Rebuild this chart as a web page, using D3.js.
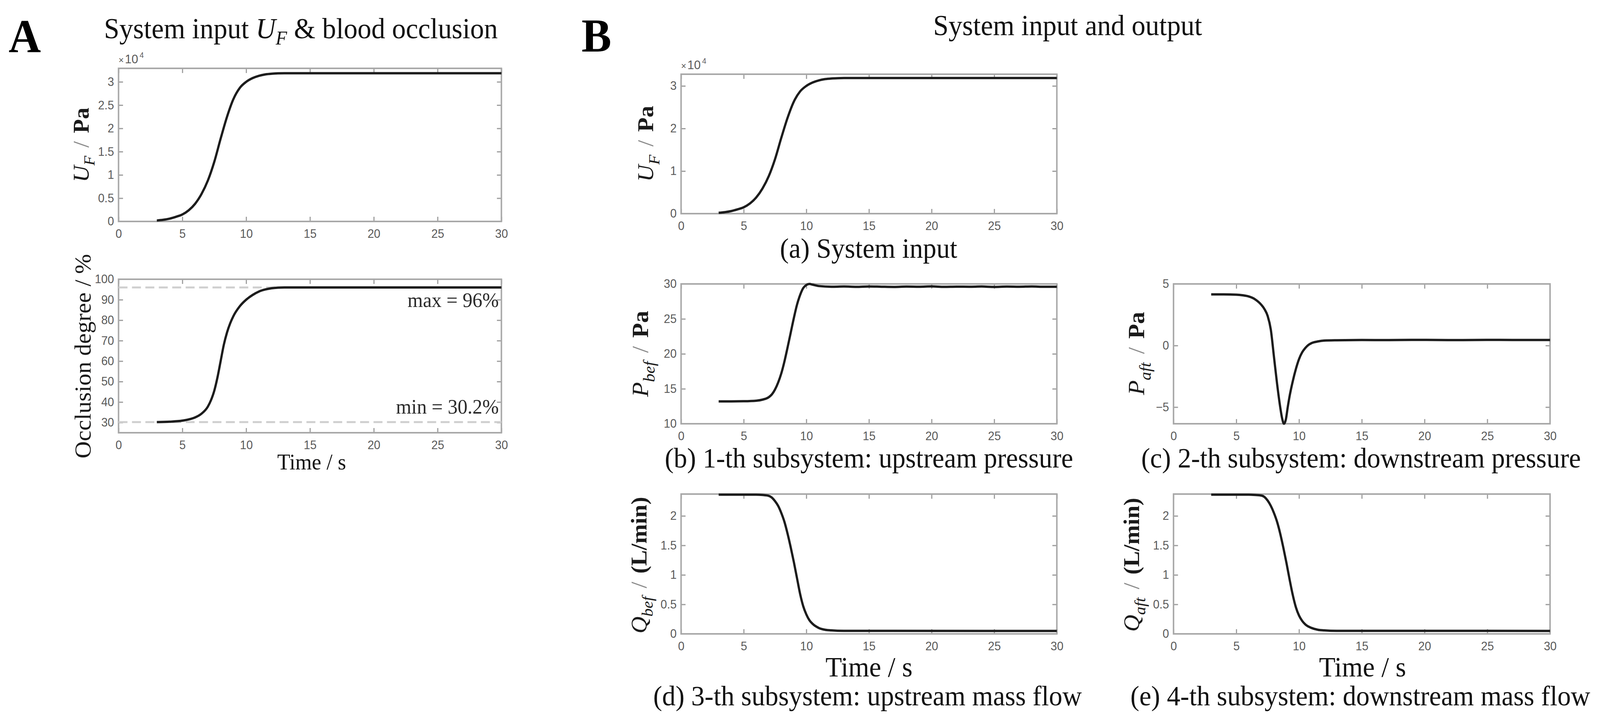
<!DOCTYPE html>
<html>
<head>
<meta charset="utf-8">
<script src="https://cdn.jsdelivr.net/npm/d3@7"></script>
<style>
  html, body { margin: 0; padding: 0; background: #fff; overflow: hidden; width: 100%; height: 100%; }
  #fig { display: block; width: 100vw; height: 100vh; }
</style>
</head>
<body>
<svg id="fig"></svg>
<script>
// ---- data (time in s) ----
const timeTicks = [0, 5, 10, 15, 20, 25, 30];

// system input U_F in Pa
const inputUF = [[3,200],[3.5,350],[4,600],[4.5,1000],[5,1500],[5.5,2400],[6,3800],[6.5,5900],
  [7,8800],[7.5,12800],[8,17800],[8.5,22500],[9,26300],[9.5,28700],[10,30000],[10.5,30800],
  [11,31300],[11.5,31600],[12,31750],[12.5,31820],[13,31850],[15,31850],[30,31850]];

// blood occlusion degree in %
const occlusion = [[3,30.2],[4,30.4],[5,30.9],[5.5,31.5],[6,32.5],[6.5,34.3],[7,37.8],[7.25,41],
  [7.5,45.5],[7.75,52],[8,60],[8.25,68],[8.5,74],[8.75,78.5],[9,82],[9.5,86.8],[10,90],[10.5,92.3],
  [11,94],[11.5,95],[12,95.6],[12.5,95.9],[13,96],[30,96]];
const occlusionMax = 96;
const occlusionMin = 30.2;

// upstream pressure P_bef in Pa
const pressureBef = [[3,13.2],[4,13.2],[5,13.22],[6,13.3],[6.5,13.45],[7,13.8],[7.25,14.2],[7.5,14.9],
  [7.75,15.9],[8,17.2],[8.25,18.9],[8.5,20.9],[8.75,23],[9,25.1],[9.25,27],[9.5,28.4],[9.75,29.4],
  [10,29.85],[10.25,30],[10.5,29.9],[11,29.7],[12,29.6],[13,29.63],[14,29.58],[15,29.64],[16,29.6],
  [17,29.57],[18,29.62],[19,29.6],[20,29.65],[21,29.58],[22,29.61],[23,29.6],[24,29.63],[25,29.57],
  [26,29.62],[27,29.6],[28,29.64],[29,29.59],[30,29.6]];

// downstream pressure P_aft in Pa
const pressureAft = [[3,4.15],[4,4.15],[5,4.13],[5.5,4.08],[6,3.98],[6.5,3.75],[7,3.3],[7.25,2.95],
  [7.5,2.4],[7.75,1.3],[8,-0.9],[8.25,-3.1],[8.5,-5],[8.65,-5.9],[8.8,-6.35],[8.95,-6],[9.1,-5],
  [9.25,-4.1],[9.5,-2.9],[9.75,-1.9],[10,-1.1],[10.25,-0.55],[10.5,-0.2],[10.75,0.05],[11,0.2],
  [11.5,0.33],[12,0.4],[13,0.43],[15,0.45],[17,0.44],[19,0.46],[21,0.45],[23,0.44],[25,0.46],
  [27,0.45],[30,0.45]];

// upstream mass flow Q_bef in L/min
const flowBef = [[3,2.36],[6,2.36],[6.5,2.355],[7,2.34],[7.25,2.31],[7.5,2.25],[7.75,2.17],[8,2.05],
  [8.25,1.9],[8.5,1.7],[8.75,1.47],[9,1.22],[9.25,0.95],[9.5,0.68],[9.75,0.47],[10,0.33],[10.25,0.23],
  [10.5,0.17],[11,0.1],[11.5,0.07],[12,0.06],[13,0.052],[30,0.05]];

// downstream mass flow Q_aft in L/min
const flowAft = [[3,2.36],[6,2.36],[6.5,2.355],[7,2.345],[7.25,2.32],[7.5,2.26],[7.75,2.17],[8,2.05],
  [8.25,1.9],[8.5,1.7],[8.75,1.46],[9,1.2],[9.25,0.92],[9.5,0.66],[9.75,0.45],[10,0.31],[10.25,0.22],
  [10.5,0.16],[11,0.1],[11.5,0.07],[12,0.06],[13,0.052],[30,0.05]];

const ufTicks = [0, 5000, 10000, 15000, 20000, 25000, 30000];
const ufTicksB = [0, 10000, 20000, 30000];
const occTicks = [30, 40, 50, 60, 70, 80, 90, 100];
const pBefTicks = [10, 15, 20, 25, 30];
const pAftTicks = [-5, 0, 5];
const flowTicks = [0, 0.5, 1, 1.5, 2];

// ---- drawing ----
const W = 4292, H = 1864;
const SERIF = '"Liberation Serif", "Times New Roman", serif';
const SANS = '"Liberation Sans", Arial, sans-serif';
const TICK = 12;

// fill the whole window whatever its css size turns out to be
const svg = d3.select('#fig')
    .attr('viewBox', `0 0 ${W} ${H}`)
    .attr('preserveAspectRatio', 'none');

function drawPanel(p) {
    const w = p.right - p.left, h = p.bottom - p.top;
    const g = svg.append('g').attr('transform', `translate(${p.left},${p.top})`);
    const x = d3.scaleLinear().domain([0, 30]).range([0, w]);
    const y = d3.scaleLinear().domain(p.yDomain).range([h, 0]);

    const axes = [
        g.append('g').attr('transform', `translate(0,${h})`)
            .call(d3.axisBottom(x).tickValues(timeTicks).tickSize(-TICK).tickPadding(20)),
        g.append('g')
            .call(d3.axisTop(x).tickValues(timeTicks).tickSize(-TICK).tickFormat('')),
        g.append('g')
            .call(d3.axisLeft(y).tickValues(p.yTicks).tickSize(-TICK).tickPadding(12).tickFormat(p.fmt)),
        g.append('g').attr('transform', `translate(${w},0)`)
            .call(d3.axisRight(y).tickValues(p.yTicks).tickSize(-TICK).tickFormat(''))
    ];
    axes.forEach(a => {
        a.select('.domain').remove();
        a.selectAll('.tick line').attr('stroke', '#9c9c9c').attr('stroke-width', 3);
        a.selectAll('.tick text').attr('fill', '#5a5a5a')
            .style('font-family', SANS).style('font-size', '31px');
    });

    g.append('rect')
        .attr('width', w).attr('height', h)
        .attr('fill', 'none').attr('stroke', '#a8a8a8').attr('stroke-width', 4);

    (p.refLines || []).forEach(v => {
        g.append('line')
            .attr('x1', 0).attr('x2', w).attr('y1', y(v)).attr('y2', y(v))
            .attr('stroke', '#cfcfcf').attr('stroke-width', 5).attr('stroke-dasharray', '24 12');
    });

    const line = d3.line()
        .x(d => x(d[0]))
        .y(d => y(d[1]))
        .curve(d3.curveMonotoneX);

    g.append('path')
        .attr('d', line(p.data))
        .attr('fill', 'none')
        .attr('stroke', '#1c1c1c')
        .attr('stroke-width', 6)
        .attr('stroke-linejoin', 'round');

    if (p.exponent) {
        const t = g.append('text').attr('x', 0).attr('y', -13)
            .attr('fill', '#5a5a5a').style('font-family', SANS);
        t.append('tspan').style('font-size', '24px').text('\u00d7');
        t.append('tspan').style('font-size', '32px').attr('dx', 3).text('10');
        t.append('tspan').style('font-size', '20px').attr('dx', 4).attr('dy', -14).text('4');
    }
    return { g, x, y, w, h };
}

// rotated y label built from parts; kinds: it, sub, slash, bold, plain
function yLabel(cx, cy, fs, parts) {
    const g = svg.append('g').attr('transform', `translate(${cx},${cy}) rotate(-90)`);
    const t = g.append('text').attr('x', 0).attr('y', fs * 0.33)
        .attr('text-anchor', 'middle').attr('fill', '#1a1a1a')
        .style('font-family', SERIF).style('font-size', fs + 'px');
    let shifted = 0;
    parts.forEach(pt => {
        const s = t.append('tspan').text(pt.t);
        let dy = 0;
        if (pt.k === 'sub') {
            dy = fs * 0.28 - shifted; shifted = fs * 0.28;
            s.style('font-size', (fs * 0.7) + 'px').style('font-style', 'italic');
        } else { dy = -shifted; shifted = 0; }
        if (dy) s.attr('dy', dy);
        if (pt.k === 'it') s.style('font-style', 'italic');
        if (pt.k === 'bold') s.style('font-weight', 'bold').attr('dx', fs * 0.35);
        if (pt.k === 'slash') s.attr('fill', '#8a8a8a').attr('dx', fs * 0.35);
    });
}

function label(x, y, fs, str, anchor, opts = {}) {
    return svg.append('text')
        .attr('x', x).attr('y', y)
        .attr('text-anchor', anchor || 'middle')
        .attr('fill', opts.fill || '#111')
        .style('font-family', SERIF).style('font-size', fs + 'px')
        .style('font-weight', opts.weight || 'normal')
        .text(str);
}

const fmtE4 = d => d3.format('~g')(d / 1e4);
const fmtPlain = d => d3.format('~g')(d);

// ---- panel A ----
label(23, 133, 120, 'A', 'start', { weight: 'bold', fill: '#000' });
{
    const t = svg.append('text').attr('x', 279).attr('y', 98).attr('fill', '#111')
        .style('font-family', SERIF).style('font-size', '74px');
    t.append('tspan').text('System input ');
    t.append('tspan').style('font-style', 'italic').text('U');
    t.append('tspan').style('font-style', 'italic').style('font-size', '50px').attr('dy', 16).text('F');
    t.append('tspan').attr('dy', -16).text(' & blood occlusion');
}

drawPanel({ left: 318, right: 1345, top: 175, bottom: 567, yDomain: [0, 32900],
    yTicks: ufTicks, fmt: fmtE4, data: inputUF, exponent: true });
yLabel(218, 371, 59, [{ t: 'U', k: 'it' }, { t: 'F', k: 'sub' }, { t: '/', k: 'slash' }, { t: 'Pa', k: 'bold' }]);

const occ = drawPanel({ left: 318, right: 1345, top: 715, bottom: 1108, yDomain: [25, 100],
    yTicks: occTicks, fmt: fmtPlain, data: occlusion, refLines: [occlusionMax, occlusionMin] });
occ.g.append('text').attr('x', occ.w - 7).attr('y', occ.y(occlusionMax) + 50)
    .attr('text-anchor', 'end').attr('fill', '#2a2a2a')
    .style('font-family', SERIF).style('font-size', '53px').text(`max = ${occlusionMax}%`);
occ.g.append('text').attr('x', occ.w - 7).attr('y', occ.y(occlusionMin) - 22)
    .attr('text-anchor', 'end').attr('fill', '#2a2a2a')
    .style('font-family', SERIF).style('font-size', '53px').text(`min = ${occlusionMin}%`);
yLabel(223, 912, 61, [{ t: 'Occlusion degree ', k: 'plain' }, { t: '/ %', k: 'plain' }]);
label(836, 1202, 57, 'Time / s');

// ---- panel B ----
label(1560, 132, 120, 'B', 'start', { weight: 'bold', fill: '#000' });
label(2864, 90, 74, 'System input and output');

drawPanel({ left: 1827, right: 2835, top: 190, bottom: 547, yDomain: [0, 32750],
    yTicks: ufTicksB, fmt: fmtE4, data: inputUF, exponent: true });
yLabel(1732, 368, 60, [{ t: 'U', k: 'it' }, { t: 'F', k: 'sub' }, { t: '/', k: 'slash' }, { t: 'Pa', k: 'bold' }]);
label(2330, 660, 72, '(a) System input');

drawPanel({ left: 1827, right: 2835, top: 727, bottom: 1085, yDomain: [10, 30],
    yTicks: pBefTicks, fmt: fmtPlain, data: pressureBef });
yLabel(1718, 906, 62, [{ t: 'P', k: 'it' }, { t: 'bef', k: 'sub' }, { t: '/', k: 'slash' }, { t: 'Pa', k: 'bold' }]);
label(2331, 1197, 72, '(b) 1-th subsystem: upstream pressure');

drawPanel({ left: 3148, right: 4158, top: 727, bottom: 1085, yDomain: [-6.35, 5],
    yTicks: pAftTicks, fmt: fmtPlain, data: pressureAft });
yLabel(3049, 905, 62, [{ t: 'P', k: 'it' }, { t: 'aft', k: 'sub' }, { t: '/', k: 'slash' }, { t: 'Pa', k: 'bold' }]);
label(3651, 1197, 72, '(c) 2-th subsystem: downstream pressure');

drawPanel({ left: 1827, right: 2835, top: 1265, bottom: 1623, yDomain: [0, 2.37],
    yTicks: flowTicks, fmt: fmtPlain, data: flowBef });
yLabel(1714, 1447, 60, [{ t: 'Q', k: 'it' }, { t: 'bef', k: 'sub' }, { t: '/', k: 'slash' }, { t: '(L/min)', k: 'bold' }]);
label(2331, 1732, 72, 'Time / s');
label(2327, 1806, 72, '(d) 3-th subsystem: upstream mass flow');

drawPanel({ left: 3148, right: 4158, top: 1265, bottom: 1623, yDomain: [0, 2.37],
    yTicks: flowTicks, fmt: fmtPlain, data: flowAft });
yLabel(3036, 1446, 60, [{ t: 'Q', k: 'it' }, { t: 'aft', k: 'sub' }, { t: '/', k: 'slash' }, { t: '(L/min)', k: 'bold' }]);
label(3655, 1732, 72, 'Time / s');
label(3649, 1806, 72, '(e) 4-th subsystem: downstream mass flow');
</script>
</body>
</html>
